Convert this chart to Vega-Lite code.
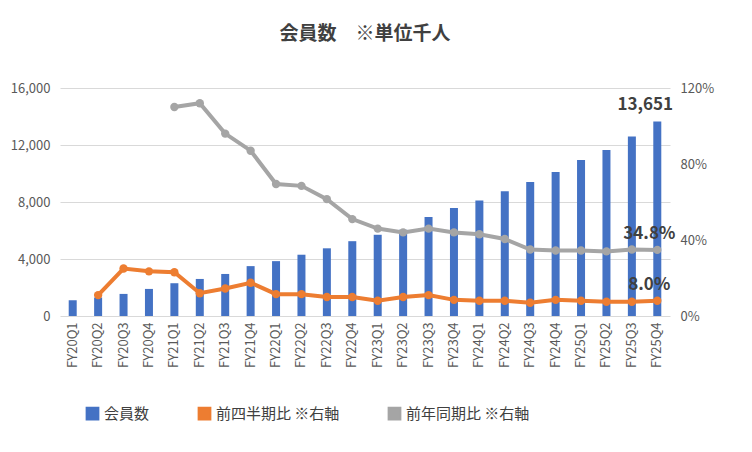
{
  "$schema": "https://vega.github.io/schema/vega-lite/v6.json",
  "width": 610,
  "height": 228,
  "padding": {"left": 10, "top": 25, "right": 10, "bottom": 5},
  "background": "white",
  "title": {"text": "会員数　※単位千人", "fontSize": 19, "font": "Noto Sans CJK JP", "color": "#404040", "fontWeight": "bold", "offset": 38},
  "config": {
    "font": "Noto Sans CJK JP",
    "view": {"stroke": null},
    "axis": {"labelColor": "#595959", "labelFontSize": 13, "domain": false, "ticks": false, "title": null, "grid": false, "labelOverlap": false},
    "legend": {"labelFontSize": 15, "labelColor": "#404040"}
  },
  "data": {"values": [
    {"q": "FY20Q1", "m": 1100, "qoq": null, "yoy": null},
    {"q": "FY20Q2", "m": 1300, "qoq": 0.11, "yoy": null},
    {"q": "FY20Q3", "m": 1550, "qoq": 0.25, "yoy": null},
    {"q": "FY20Q4", "m": 1900, "qoq": 0.235, "yoy": null},
    {"q": "FY21Q1", "m": 2300, "qoq": 0.23, "yoy": 1.10},
    {"q": "FY21Q2", "m": 2600, "qoq": 0.12, "yoy": 1.12},
    {"q": "FY21Q3", "m": 2950, "qoq": 0.145, "yoy": 0.96},
    {"q": "FY21Q4", "m": 3500, "qoq": 0.175, "yoy": 0.87},
    {"q": "FY22Q1", "m": 3850, "qoq": 0.115, "yoy": 0.695},
    {"q": "FY22Q2", "m": 4300, "qoq": 0.115, "yoy": 0.685},
    {"q": "FY22Q3", "m": 4750, "qoq": 0.10, "yoy": 0.615},
    {"q": "FY22Q4", "m": 5250, "qoq": 0.10, "yoy": 0.51},
    {"q": "FY23Q1", "m": 5700, "qoq": 0.08, "yoy": 0.46},
    {"q": "FY23Q2", "m": 6050, "qoq": 0.10, "yoy": 0.44},
    {"q": "FY23Q3", "m": 6950, "qoq": 0.11, "yoy": 0.46},
    {"q": "FY23Q4", "m": 7580, "qoq": 0.085, "yoy": 0.44},
    {"q": "FY24Q1", "m": 8100, "qoq": 0.08, "yoy": 0.43},
    {"q": "FY24Q2", "m": 8750, "qoq": 0.08, "yoy": 0.405},
    {"q": "FY24Q3", "m": 9400, "qoq": 0.07, "yoy": 0.35},
    {"q": "FY24Q4", "m": 10100, "qoq": 0.085, "yoy": 0.345},
    {"q": "FY25Q1", "m": 10950, "qoq": 0.08, "yoy": 0.345},
    {"q": "FY25Q2", "m": 11650, "qoq": 0.075, "yoy": 0.34},
    {"q": "FY25Q3", "m": 12600, "qoq": 0.075, "yoy": 0.35},
    {"q": "FY25Q4", "m": 13651, "qoq": 0.08, "yoy": 0.348, "last": true}
  ]},
  "encoding": {
    "x": {"field": "q", "type": "nominal", "sort": null, "axis": {"labelAngle": -90, "labelPadding": 6}}
  },
  "resolve": {"scale": {"y": "independent"}},
  "layer": [
    {
      "layer": [
        {
          "mark": {"type": "bar", "width": 8},
          "encoding": {
            "y": {"field": "m", "type": "quantitative", "scale": {"domain": [0, 16000]}, "axis": {"values": [0,2000,4000,6000,8000,10000,12000,14000,16000], "format": ",d", "grid": true, "gridColor": "#d9d9d9", "labelPadding": 10}},
            "color": {"datum": "会員数", "type": "nominal", "scale": {"domain": ["会員数", "前四半期比 ※右軸", "前年同期比 ※右軸"], "range": ["#4472c4", "#ed7d31", "#a5a5a5"]}, "legend": {"orient": "none", "legendX": 25, "legendY": 318, "direction": "horizontal", "title": null, "symbolType": "square", "symbolSize": 150, "columnPadding": 45}}
          }
        },
        {
          "transform": [{"filter": "datum.last"}],
          "mark": {"type": "text", "dy": -16, "dx": -12, "fontSize": 17, "fontWeight": "bold", "color": "#404040"},
          "encoding": {"y": {"field": "m", "type": "quantitative"}, "text": {"field": "m", "format": ","}}
        }
      ]
    },
    {
      "layer": [
        {
          "mark": {"type": "line", "strokeWidth": 4, "point": {"size": 70, "filled": true}},
          "encoding": {
            "y": {"field": "yoy", "type": "quantitative", "scale": {"domain": [0, 1.2]}, "axis": {"orient": "right", "values": [0,0.2,0.4,0.6,0.8,1.0,1.2], "format": ".0%", "labelPadding": 10}},
            "color": {"datum": "前年同期比 ※右軸", "type": "nominal"}
          }
        },
        {
          "mark": {"type": "line", "strokeWidth": 4, "point": {"size": 70, "filled": true}},
          "encoding": {
            "y": {"field": "qoq", "type": "quantitative"},
            "color": {"datum": "前四半期比 ※右軸", "type": "nominal"}
          }
        },
        {
          "transform": [{"filter": "datum.last"}],
          "mark": {"type": "text", "dy": -16, "dx": -8, "fontSize": 17, "fontWeight": "bold", "color": "#404040"},
          "encoding": {"y": {"field": "yoy", "type": "quantitative"}, "text": {"field": "yoy", "format": ".1%"}}
        },
        {
          "transform": [{"filter": "datum.last"}],
          "mark": {"type": "text", "dy": -16, "dx": -8, "fontSize": 17, "fontWeight": "bold", "color": "#404040"},
          "encoding": {"y": {"field": "qoq", "type": "quantitative"}, "text": {"field": "qoq", "format": ".1%"}}
        }
      ]
    }
  ]
}
